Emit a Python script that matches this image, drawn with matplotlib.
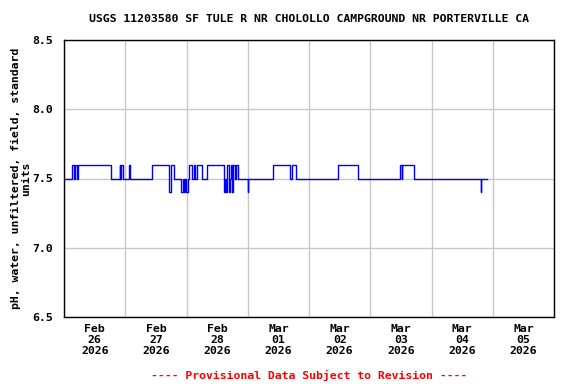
import numpy as np
import pandas as pd
import matplotlib
matplotlib.use("Agg")
import matplotlib.pyplot as plt
import matplotlib.dates as mdates

# ── Data: change points of the 15-min pH record (value holds until next) ────
change_times = [
    "2026-02-26 00:15", "2026-02-26 03:00", "2026-02-26 03:45", "2026-02-26 04:15",
    "2026-02-26 05:00", "2026-02-26 05:30", "2026-02-26 18:15", "2026-02-26 21:45",
    "2026-02-26 22:00", "2026-02-26 22:30", "2026-02-26 23:00", "2026-02-27 01:30",
    "2026-02-27 02:00", "2026-02-27 10:30", "2026-02-27 17:15", "2026-02-27 17:45",
    "2026-02-27 19:00", "2026-02-27 22:00", "2026-02-27 22:30", "2026-02-27 23:00",
    "2026-02-27 23:15", "2026-02-27 23:45", "2026-02-28 00:30", "2026-02-28 01:00",
    "2026-02-28 02:00", "2026-02-28 02:45", "2026-02-28 03:30", "2026-02-28 04:00",
    "2026-02-28 06:00", "2026-02-28 08:00", "2026-02-28 14:30", "2026-02-28 14:45",
    "2026-02-28 15:15", "2026-02-28 15:30", "2026-02-28 16:00", "2026-02-28 16:30",
    "2026-02-28 17:00", "2026-02-28 17:30", "2026-02-28 18:00", "2026-02-28 18:15",
    "2026-02-28 19:00", "2026-02-28 19:30", "2026-02-28 20:00", "2026-03-01 00:00",
    "2026-03-01 00:15", "2026-03-01 10:00", "2026-03-01 16:45", "2026-03-01 17:15",
    "2026-03-01 19:00", "2026-03-02 11:30", "2026-03-02 19:15", "2026-03-03 11:45",
    "2026-03-03 12:15", "2026-03-03 12:30", "2026-03-03 17:15", "2026-03-04 19:15",
    "2026-03-04 19:30", "2026-03-04 21:45",
]
change_values = [
    7.5, 7.6, 7.5, 7.6,
    7.5, 7.6, 7.5, 7.6,
    7.5, 7.6, 7.5, 7.6,
    7.5, 7.6, 7.4, 7.6,
    7.5, 7.4, 7.5, 7.4,
    7.5, 7.4, 7.5, 7.6,
    7.5, 7.6, 7.5, 7.6,
    7.5, 7.6, 7.5, 7.4,
    7.5, 7.4, 7.6, 7.4,
    7.5, 7.6, 7.4, 7.6,
    7.5, 7.6, 7.5, 7.4,
    7.5, 7.6, 7.5, 7.6,
    7.5, 7.6, 7.5, 7.6,
    7.5, 7.6, 7.5, 7.4,
    7.5, 7.5,
]

TITLE  = "USGS 11203580 SF TULE R NR CHOLOLLO CAMPGROUND NR PORTERVILLE CA"
YLABEL = "pH, water, unfiltered, field, standard\nunits"
FOOTER = "---- Provisional Data Subject to Revision ----"
Y_TICKS = [6.5, 7.0, 7.5, 8.0, 8.5]

times = pd.to_datetime(change_times)

plt.rcParams["font.family"] = "DejaVu Sans Mono"
plt.rcParams["font.weight"] = "bold"
FS = 8.25

fig = plt.figure(figsize=(5.76, 3.84), dpi=100)
ax = fig.add_axes([64 / 576, 1 - 317 / 384, 490 / 576, 277 / 384])

ax.plot(times, change_values, drawstyle="steps-post", color="#0000ff", lw=1.0)

ax.set_xlim(pd.Timestamp("2026-02-26"), pd.Timestamp("2026-03-06"))
ax.set_ylim(6.5, 8.5)
ax.set_yticks(Y_TICKS)
ax.set_yticklabels([f"{v:.1f}" for v in Y_TICKS])

# labels at noon, grid at midnight
ax.xaxis.set_major_locator(mdates.HourLocator(byhour=[12]))
ax.xaxis.set_major_formatter(mdates.DateFormatter("%b\n%d\n%Y"))
ax.xaxis.set_minor_locator(mdates.DayLocator())
ax.grid(True, which="minor", axis="x", color="#c8c8c8", lw=1.0)
ax.grid(True, which="major", axis="y", color="#c8c8c8", lw=1.0)
ax.set_axisbelow(True)

ax.tick_params(axis="both", which="both", length=0, labelsize=FS)
ax.tick_params(axis="x", pad=5)
ax.tick_params(axis="y", pad=8)
for lab in ax.get_xticklabels():
    lab.set_fontweight("bold")
    lab.set_linespacing(1.13)
for lab in ax.get_yticklabels():
    lab.set_fontweight("bold")
for sp in ax.spines.values():
    sp.set_linewidth(1.0)
    sp.set_color("black")

ax.set_ylabel(YLABEL, fontsize=FS, fontweight="bold", linespacing=1.0)
ax.yaxis.set_label_coords(-33 / 490, 0.5)

fig.text(309 / 576, 1 - 19 / 384, TITLE, ha="center", va="center",
         fontsize=FS, fontweight="bold")
fig.text(309 / 576, 1 - 375 / 384, FOOTER, ha="center", va="center",
         fontsize=FS, fontweight="bold", color="#ff0000")

fig.savefig("out.png", dpi=100, facecolor="white")
